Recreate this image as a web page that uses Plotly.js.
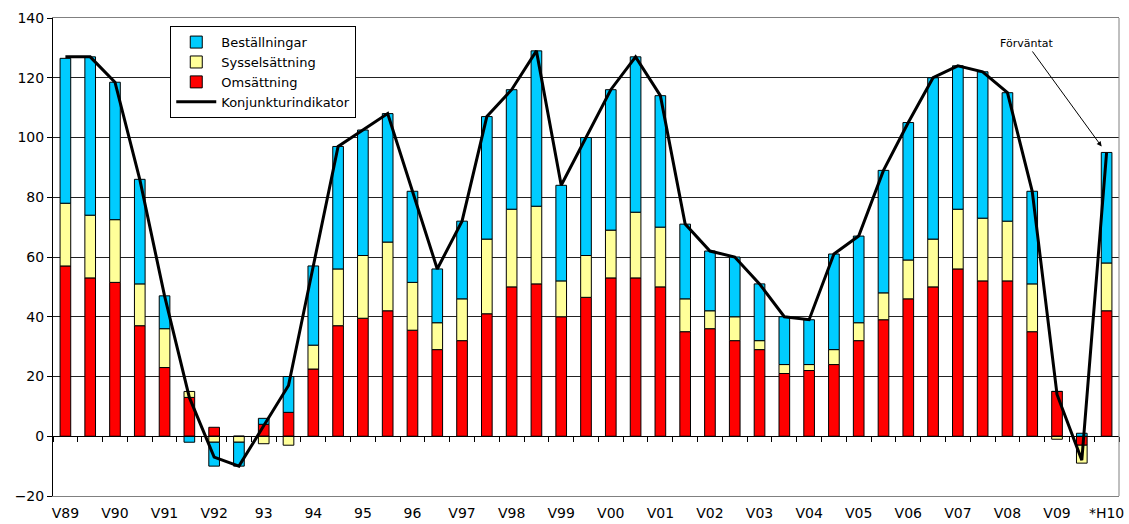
<!DOCTYPE html>
<html>
<head>
<meta charset="utf-8">
<script src="https://cdn.plot.ly/plotly-3.0.1.min.js"></script>
<style>html,body{margin:0;padding:0;background:#fff;}#chart{width:1129px;height:524px;}</style>
</head>
<body>
<div id="chart"></div>
<script>
const periods = ["V89","H89","V90","H90","V91","H91","V92","H92","V93","H93","V94","H94","V95","H95","V96","H96","V97","H97","V98","H98","V99","H99","V00","H00","V01","H01","V02","H02","V03","H03","V04","H04","V05","H05","V06","H06","V07","H07","V08","H08","V09","H09","*H10"];
const tickPeriods = ["V89","V90","V91","V92","V93","V94","V95","V96","V97","V98","V99","V00","V01","V02","V03","V04","V05","V06","V07","V08","V09","*H10"];
const tickLabels = ["V89","V90","V91","V92","93","94","95","96","V97","V98","V99","V00","V01","V02","V03","V04","V05","V06","V07","V08","V09","*H10"];

const omsattning = [57,53,51.5,37,23,13,3,0,4,8,22.5,37,39.5,42,35.5,29,32,41,50,51,40,46.5,53,53,50,35,36,32,29,21,22,24,32,39,46,50,56,52,52,35,15,-3,42];
const sysselsattning = [21,21,21,14,13,2,-2,-2,-2.5,-3,8,19,21,23,16,9,14,25,26,26,12,14,16,22,20,11,6,8,3,3,2,5,6,9,13,16,20,21,20,16,-1,-6,16];
const bestallningar = [48.5,53,46,35,11,-2,-8,-8,2,12,26.5,41,42,43,30.5,18,26,41,40,52,32,39.5,47,52,44,25,20,20,19,16,15,32,29,41,46,54,48,49,43,31,0,1,37];
const konjunktur = [127,127,118.5,86,47,13,-7,-10,3.5,17,57,97,102.5,108,82,56,72,107,116,129,84,100,116,127,114,71,62,60,51,40,39,61,67,89,105,120,124,122,115,82,14,-8,95];

const FONT = "DejaVu Sans, Verdana, sans-serif";
const barLine = {color: "#000000", width: 1};

const traces = [
  {type: "bar", name: "Omsättning", x: periods, y: omsattning, legendrank: 3,
   marker: {color: "#FF0000", line: barLine}, hoverinfo: "x+y"},
  {type: "bar", name: "Sysselsättning", x: periods, y: sysselsattning, legendrank: 2,
   marker: {color: "#FFFF99", line: barLine}, hoverinfo: "x+y"},
  {type: "bar", name: "Beställningar", x: periods, y: bestallningar, legendrank: 1,
   marker: {color: "#00CCFF", line: barLine}, hoverinfo: "x+y"},
  {type: "scatter", mode: "lines", name: "Konjunkturindikator", x: periods, y: konjunktur, legendrank: 4,
   line: {color: "#000000", width: 3}, hoverinfo: "x+y"},
  {type: "scatter", mode: "markers", x: [0], y: [null], xaxis: "x2", showlegend: false, hoverinfo: "skip"}
];

const layout = {
  width: 1129, height: 524,
  margin: {l: 53, r: 10, t: 18, b: 28},
  paper_bgcolor: "#ffffff", plot_bgcolor: "#ffffff",
  barmode: "relative", bargap: 0.57,
  showlegend: true,
  legend: {x: 0.11, y: 0.983, xanchor: "left", yanchor: "top",
           bgcolor: "#ffffff", bordercolor: "#000000", borderwidth: 1, itemwidth: 40,
           font: {family: FONT, size: 13, color: "#000000"}, tracegroupgap: 0},
  font: {family: FONT, size: 14, color: "#000000"},
  xaxis: {type: "category", categoryorder: "array", categoryarray: periods,
          range: [-0.5, periods.length - 0.5],
          tickmode: "array", tickvals: tickPeriods, ticktext: tickLabels,
          ticks: "", showgrid: false, zeroline: false, ticklabelstandoff: 4,
          showline: true, linecolor: "#808080", linewidth: 1, mirror: true,
          tickfont: {family: FONT, size: 14, color: "#000000"}, fixedrange: true},
  xaxis2: {overlaying: "x", anchor: "free", position: 0.125,
           range: [-0.5, periods.length - 0.5], tickmode: "linear", tick0: -0.5, dtick: 1,
           ticks: "outside", ticklen: 5, tickcolor: "#000000", tickwidth: 1,
           showticklabels: false, showgrid: false, zeroline: false,
           showline: true, linecolor: "#000000", linewidth: 1},
  yaxis: {range: [-20, 140], tickmode: "linear", tick0: -20, dtick: 20,
          ticks: "outside", ticklen: 5, tickcolor: "#000000",
          showgrid: true, gridcolor: "#222222", gridwidth: 1,
          zeroline: false, showline: true, linecolor: "#000000", linewidth: 1,
          tickfont: {family: FONT, size: 14, color: "#000000"}, fixedrange: true},
  shapes: [
    {type: "line", xref: "paper", yref: "paper", x0: 1, x1: 1, y0: 0, y1: 1,
     line: {color: "#808080", width: 1}}
  ],
  annotations: [
    {x: "*H10", y: 97, xref: "x", yref: "y", text: "Förväntat",
     showarrow: true, arrowhead: 2, arrowsize: 1, arrowwidth: 1, arrowcolor: "#000000",
     ax: -75, ay: -103, xshift: -5,
     font: {family: FONT, size: 11, color: "#000000"}}
  ]
};

Plotly.newPlot("chart", traces, layout, {displayModeBar: false, staticPlot: true});
</script>
</body>
</html>
